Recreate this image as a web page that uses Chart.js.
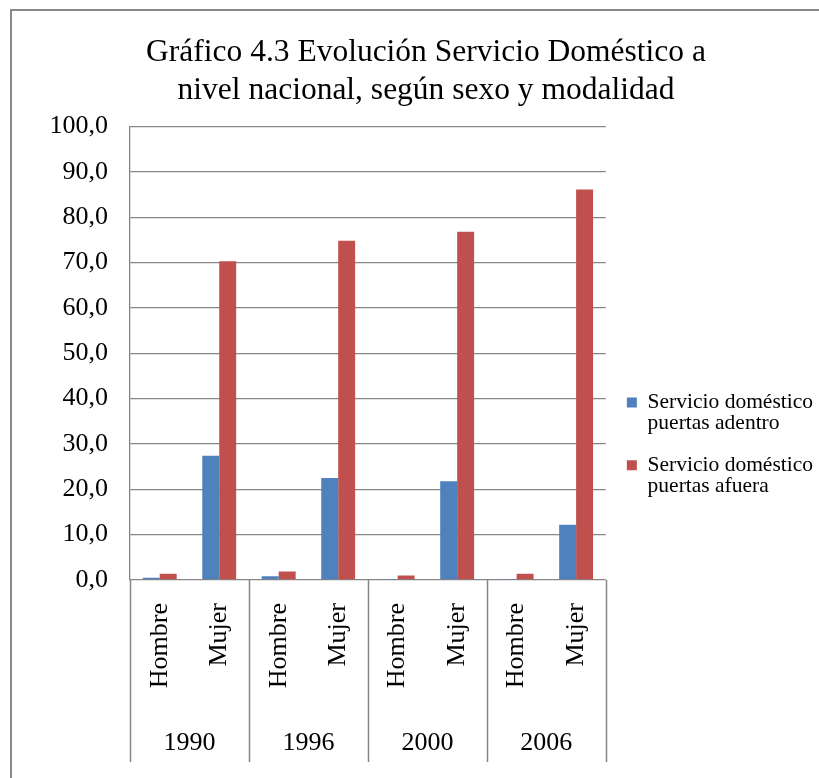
<!DOCTYPE html>
<html>
<head>
<meta charset="utf-8">
<script src="https://cdn.jsdelivr.net/npm/chart.js@4.4.1/dist/chart.umd.min.js"></script>
<style>
  html, body { margin: 0; padding: 0; background: #fff; }
  #wrap { position: relative; width: 819px; height: 778px; }
  #frame { position: absolute; left: 10px; top: 9px; right: 0; bottom: 0;
           border-left: 2px solid #8a8a8a; border-top: 2px solid #8a8a8a; }
  canvas { position: absolute; left: 0; top: 0; }
</style>
</head>
<body>
<div id="wrap">
  <div id="frame"></div>
  <canvas id="grafico" width="819" height="778"></canvas>
</div>
<script>
// Datos del gráfico
const years = ['1990', '1996', '2000', '2006'];
const sexes = ['Hombre', 'Mujer'];
const puertasAdentro = [0.5, 27.4, 0.8, 22.5, 0.2, 21.8, 0.2, 12.2];
const puertasAfuera = [1.4, 70.3, 1.9, 74.8, 1.0, 76.8, 1.4, 86.1];
const yTicks = ['0,0', '10,0', '20,0', '30,0', '40,0', '50,0', '60,0', '70,0', '80,0', '90,0', '100,0'];
const legendLines = [
    ['Servicio doméstico', 'puertas adentro'],
    ['Servicio doméstico', 'puertas afuera']
];

const categories = years.flatMap(() => sexes);
const serif = "'Liberation Serif', 'Times New Roman', serif";
const gridColor = '#868686';

// Líneas separadoras entre años (debajo del eje)
const separadores = {
    id: 'separadores',
    afterDraw(chart) {
        const x2 = chart.scales.x2;
        const ctx = chart.ctx;
        const step = (x2.right - x2.left) / years.length;
        ctx.save();
        ctx.strokeStyle = gridColor;
        ctx.lineWidth = 1.5;
        for (let i = 0; i <= years.length; i++) {
            const px = Math.round(x2.left + i * step) + 0.5;
            ctx.beginPath();
            ctx.moveTo(px, chart.chartArea.bottom);
            ctx.lineTo(px, x2.bottom);
            ctx.stroke();
        }
        ctx.restore();
    }
};

new Chart(document.getElementById('grafico'), {
    type: 'bar',
    data: {
        labels: categories,
        datasets: [{
            label: legendLines[0].join(' '),
            data: puertasAdentro,
            backgroundColor: '#4F81BD',
            categoryPercentage: 0.57,
            barPercentage: 1.0
        }, {
            label: legendLines[1].join(' '),
            data: puertasAfuera,
            backgroundColor: '#C0504D',
            categoryPercentage: 0.57,
            barPercentage: 1.0
        }]
    },
    options: {
        responsive: false,
        animation: false,
        layout: { padding: { left: 29, right: -4, top: 0, bottom: 16 } },
        plugins: {
            title: {
                display: true,
                text: ['Gráfico 4.3 Evolución Servicio Doméstico a', 'nivel nacional, según sexo y modalidad'],
                color: '#000',
                font: { family: serif, size: 31.5, weight: 'normal', lineHeight: 1.2 },
                padding: { top: 34, bottom: 17 }
            },
            legend: {
                position: 'right',
                align: 'center',
                maxWidth: 260,
                title: { display: true, text: '', padding: { top: 0, bottom: 114 }, font: { size: 10 } },
                labels: {
                    color: '#000',
                    font: { family: serif, size: 21.5, lineHeight: 0.97 },
                    boxWidth: 10,
                    boxHeight: 10,
                    padding: 21,
                    generateLabels(chart) {
                        const items = Chart.defaults.plugins.legend.labels.generateLabels(chart);
                        items.forEach((item, i) => {
                            item.text = legendLines[i];
                            item.lineWidth = 0;
                        });
                        return items;
                    }
                }
            },
            tooltip: { enabled: false }
        },
        scales: {
            x: {
                grid: { display: false, drawTicks: false },
                border: { display: false },
                ticks: {
                    color: '#000',
                    font: { family: serif, size: 26 },
                    minRotation: 90,
                    maxRotation: 90,
                    padding: 23,
                    autoSkip: false
                },
                afterFit(scale) { scale.height = 110; }
            },
            x2: {
                type: 'category',
                labels: years,
                position: 'bottom',
                grid: { display: false, drawTicks: false },
                border: { display: false },
                ticks: {
                    color: '#000',
                    font: { family: serif, size: 26 },
                    padding: 38
                },
                afterFit(scale) { scale.height = 72; }
            },
            y: {
                min: 0,
                max: 100,
                ticks: {
                    stepSize: 10,
                    color: '#000',
                    font: { family: serif, size: 26 },
                    padding: 22,
                    callback: (value, index) => yTicks[index]
                },
                grid: { color: gridColor, lineWidth: 1.3, drawTicks: false },
                border: { display: true, color: gridColor, width: 1.3 },
                afterFit(scale) { scale.width = 101; }
            }
        }
    },
    plugins: [separadores]
});
</script>
</body>
</html>
